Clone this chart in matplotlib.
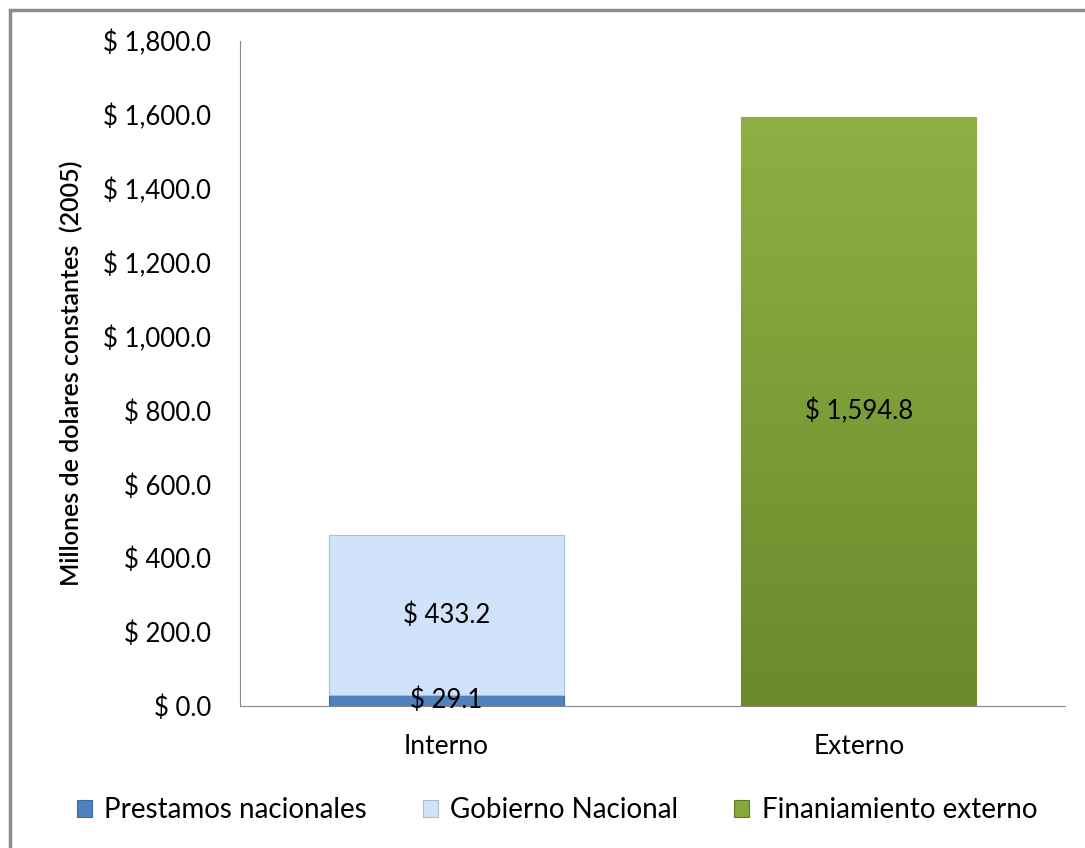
import numpy as np
import matplotlib.pyplot as plt
from matplotlib.patches import Rectangle
from matplotlib.colors import LinearSegmentedColormap

categories = ['Interno', 'Externo']
prestamos = [29.1, 0.0]
gobierno = [433.2, 0.0]
externo = [0.0, 1594.8]
series_names = ['Prestamos nacionales', 'Gobierno Nacional', 'Finaniamiento externo']
yticks = [0, 200, 400, 600, 800, 1000, 1200, 1400, 1600, 1800]

plt.rcParams['font.family'] = ['Lato', 'DejaVu Sans']

fig = plt.figure(figsize=(10.85, 8.48), dpi=100)
# outer gray frame (top and left visible)
fig.patches.append(Rectangle((10 / 1085, -0.1), 1.2, 1 - 10 / 848 + 0.1, transform=fig.transFigure,
                             fill=False, edgecolor='#8c8c8c', linewidth=2.5))

ax = fig.add_axes([240 / 1085, 1 - 706 / 848, 825 / 1085, (706 - 41) / 848])
x = np.arange(len(categories))
w = 0.57

b1 = ax.bar(x, prestamos, w, color='#4f81bd', edgecolor='#3a6aa5', linewidth=0.8, label=series_names[0])
b2 = ax.bar(x, gobierno, w, bottom=prestamos, color='#d0e3fa', edgecolor='#a9bdd8', linewidth=0.8,
            label=series_names[1])
b3 = ax.bar(x, externo, w, color='#86a83c', edgecolor='#5f7a26', linewidth=0.8, label=series_names[2])

# vertical gradient for the green bar
green = LinearSegmentedColormap.from_list('g', ['#6a8a2c', '#8db043'])
for rect in b3:
    if rect.get_height() > 0:
        x0, y0 = rect.get_x(), rect.get_y()
        grad = np.linspace(0, 1, 256).reshape(-1, 1)
        im = ax.imshow(grad, cmap=green, origin='lower', aspect='auto',
                       extent=[x0, x0 + rect.get_width(), y0, y0 + rect.get_height()], zorder=rect.get_zorder())
        im.set_clip_path(rect)

ax.set_xlim(-0.5, 1.5)
ax.set_ylim(0, 1800)
ax.set_yticks(yticks)
ax.set_yticklabels(['$ {:,.1f}'.format(v) for v in yticks], fontsize=18.5)
ax.set_xticks(x)
ax.set_xticklabels(categories, fontsize=19)
ax.tick_params(axis='y', length=0, pad=21)
ax.tick_params(axis='x', length=0, pad=20)
for s in ['top', 'right']:
    ax.spines[s].set_visible(False)
ax.spines['left'].set_color('#888888')
ax.spines['bottom'].set_color('#888888')
ax.set_ylabel('Millones de dolares constantes  (2005)', fontsize=18, fontweight='semibold', labelpad=14)

for i in range(len(categories)):
    if prestamos[i] > 0:
        ax.text(x[i], prestamos[i] / 2, '$ {:,.1f}'.format(prestamos[i]), ha='center', va='center', fontsize=18.5)
    if gobierno[i] > 0:
        ax.text(x[i], prestamos[i] + gobierno[i] / 2, '$ {:,.1f}'.format(gobierno[i]), ha='center',
                va='center', fontsize=18.5)
    if externo[i] > 0:
        ax.text(x[i], externo[i] / 2, '$ {:,.1f}'.format(externo[i]), ha='center', va='center', fontsize=18.5)

leg = fig.legend(handles=[b1, b2, b3], labels=series_names, loc='center', ncol=3,
                 bbox_to_anchor=(557 / 1085, 1 - 810 / 848), frameon=False, fontsize=20,
                 handlelength=0.55, handleheight=0.55, columnspacing=2.0, handletextpad=0.45)

fig.savefig('out.png', dpi=100)
